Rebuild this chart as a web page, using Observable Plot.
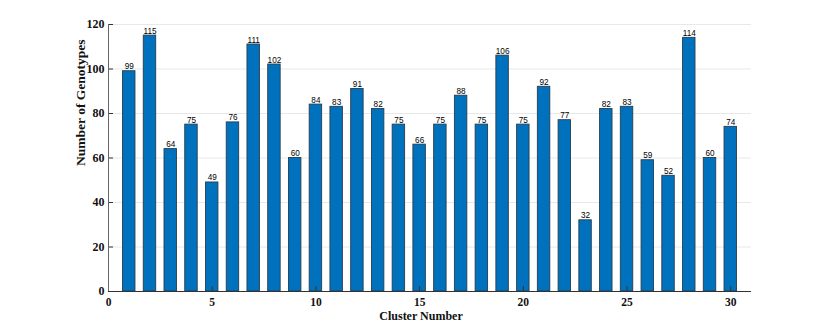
<!DOCTYPE html>
<html>
<head>
<meta charset="utf-8">
<script src="https://cdn.jsdelivr.net/npm/d3@7"></script>
<script src="https://cdn.jsdelivr.net/npm/@observablehq/plot@0.6"></script>
<style>
  html, body { margin: 0; padding: 0; background: #fff; }
  #chart svg { display: block; }
</style>
</head>
<body>
<div id="chart"></div>
<script>
const clusters = d3.range(1, 31);
const genotypes = [99,115,64,75,49,76,111,102,60,84,83,91,82,75,66,75,88,75,106,75,92,77,32,82,83,59,52,114,60,74];
const xTicks = [0,5,10,15,20,25,30];
const yTicks = [0,20,40,60,80,100,120];
const xTitle = "Cluster Number";
const yTitle = "Number of Genotypes";

const data = clusters.map((c, i) => ({cluster: c, count: genotypes[i]}));
const halfBar = 0.3;
const serif = "'Liberation Serif', 'Times New Roman', serif";

const chart = Plot.plot({
  width: 830,
  height: 327,
  marginLeft: 108,
  marginRight: 79,
  marginTop: 24,
  marginBottom: 36,
  style: {background: "#fff", fontFamily: serif},
  x: {domain: [0, 31]},
  y: {domain: [0, 120]},
  marks: [
    Plot.gridY(yTicks.filter(t => t > 0), {stroke: "#e8e8e8", strokeOpacity: 1, strokeWidth: 1}),
    Plot.rectY(data, {
      x1: d => d.cluster - halfBar,
      x2: d => d.cluster + halfBar,
      y: "count",
      fill: "#0072BD",
      stroke: "#263d50",
      strokeWidth: 0.9
    }),
    Plot.text(data, {
      x: "cluster",
      y: "count",
      text: d => String(d.count),
      lineAnchor: "bottom",
      dy: -2,
      fontSize: 8.2,
      fontFamily: "'Liberation Sans', Arial, sans-serif",
      fill: "#000"
    }),
    // inward ticks
    Plot.axisY(yTicks, {anchor: "left", text: null, tickSize: 5, dx: 5, stroke: "#333", label: null}),
    Plot.axisX(xTicks, {anchor: "bottom", text: null, tickSize: 5, dy: -5, stroke: "#333", label: null}),
    // tick labels
    Plot.axisY(yTicks, {anchor: "left", tickSize: 0, tickPadding: 4, fontSize: 12, fontWeight: "bold", fontFamily: serif, fill: "#111", label: null}),
    Plot.axisX(xTicks, {anchor: "bottom", tickSize: 0, tickPadding: 6, fontSize: 11.5, fontWeight: "bold", fontFamily: serif, fill: "#111", label: null}),
    Plot.ruleX([0], {stroke: "#666", strokeWidth: 1}),
    Plot.ruleY([0], {stroke: "#333", strokeWidth: 1}),
    Plot.text([yTitle], {frameAnchor: "left", rotate: -90, dx: -28, dy: 8, fontSize: 13.5, fontWeight: "bold", fontFamily: serif, fill: "#111"}),
    Plot.text([xTitle], {frameAnchor: "bottom", dx: -9, dy: 28, fontSize: 12, fontWeight: "bold", fontFamily: serif, fill: "#111"})
  ]
});
document.getElementById("chart").appendChild(chart);
</script>
</body>
</html>
